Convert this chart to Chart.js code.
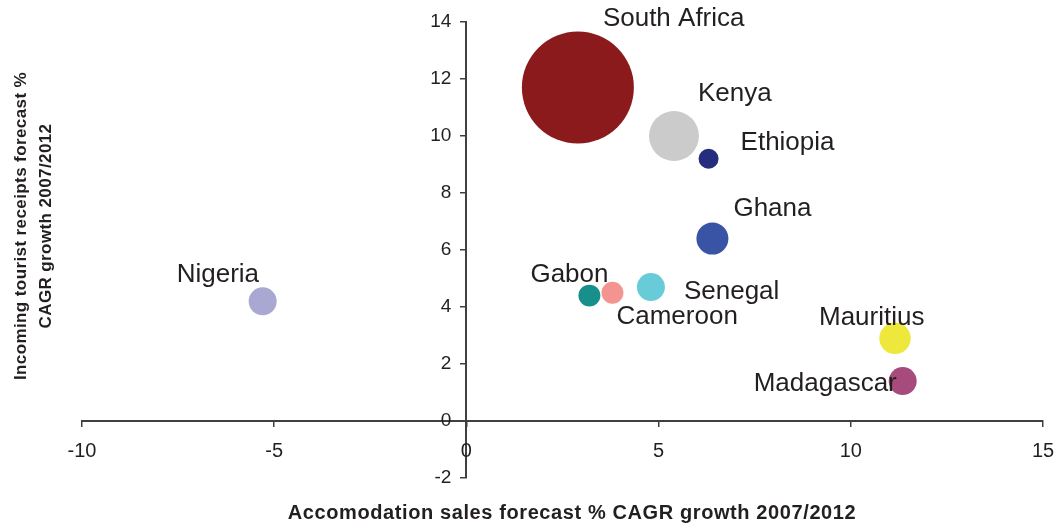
<!DOCTYPE html>
<html>
<head>
<meta charset="utf-8">
<script src="https://cdn.jsdelivr.net/npm/chart.js@4/dist/chart.umd.min.js"></script>
<style>
html, body { margin: 0; padding: 0; background: #fff; }
#wrap { width: 1057px; height: 526px; position: relative; }
</style>
</head>
<body>
<div id="wrap"><canvas id="bubbleChart"></canvas></div>
<script>
const countries = ['South Africa', 'Kenya', 'Ethiopia', 'Ghana', 'Gabon', 'Cameroon', 'Senegal', 'Nigeria', 'Mauritius', 'Madagascar'];
const accomGrowth = [2.9, 5.4, 6.3, 6.4, 3.2, 3.8, 4.8, -5.3, 11.15, 11.35];
const receiptsGrowth = [11.7, 10.0, 9.2, 6.4, 4.4, 4.5, 4.7, 4.2, 2.9, 1.4];
const marketSize = [784, 156, 25, 64, 30, 30, 49, 49, 62, 49];
const xTicks = [-10, -5, 0, 5, 10, 15];
const yTicks = [-2, 0, 2, 4, 6, 8, 10, 12, 14];

const bubbleColors = ['#8b1a1c', '#cbcbcb', '#262d7c', '#3953a5', '#178f8a', '#f39491', '#68ccd8', '#a9a8d3', '#eee83c', '#a64b7b'];
// label offset from bubble centre (px): [dx, dy], text drawn left-aligned
const labelOffset = [[25, -69], [24, -42], [32, -16], [21, -30], [-59, -21], [4, 24], [33, 5], [-86, -26], [-76, -21], [-149, 3]];

const textColor = '#231f20';
const axisColor = '#404040';
const fontFamily = '"Liberation Sans", Arial, sans-serif';

const bubbleData = countries.map((c, i) => ({
    x: accomGrowth[i],
    y: receiptsGrowth[i],
    r: Math.sqrt(marketSize[i]) * 2
}));

const labelPlugin = {
    id: 'countryLabels',
    afterDatasetsDraw(chart) {
        const ctx = chart.ctx;
        const meta = chart.getDatasetMeta(0);
        ctx.save();
        ctx.font = '26px ' + fontFamily;
        ctx.fillStyle = textColor;
        ctx.textAlign = 'left';
        ctx.textBaseline = 'middle';
        meta.data.forEach((pt, i) => {
            ctx.fillText(countries[i], pt.x + labelOffset[i][0], pt.y + labelOffset[i][1]);
        });
        ctx.restore();
    }
};

// tick labels: centred axes put them flush on the lines, so draw them with a gap
const tickLabelPlugin = {
    id: 'tickLabels',
    afterDraw(chart) {
        const ctx = chart.ctx;
        const xs = chart.scales.x;
        const ys = chart.scales.y;
        const x0 = xs.getPixelForValue(0);
        const y0 = ys.getPixelForValue(0);
        ctx.save();
        ctx.fillStyle = textColor;
        ctx.textBaseline = 'middle';

        ctx.font = '19px ' + fontFamily;
        ctx.textAlign = 'right';
        yTicks.forEach(v => {
            ctx.fillText(String(v), x0 - 15, ys.getPixelForValue(v));
        });

        ctx.font = '20px ' + fontFamily;
        ctx.textAlign = 'center';
        xTicks.forEach(v => {
            ctx.fillText(String(v), xs.getPixelForValue(v), y0 + 30);
        });
        ctx.restore();
    }
};

const titlePlugin = {
    id: 'axisTitles',
    afterDraw(chart) {
        const ctx = chart.ctx;
        ctx.save();
        ctx.fillStyle = textColor;
        ctx.textAlign = 'center';
        ctx.textBaseline = 'middle';
        ctx.letterSpacing = '0.6px';
        ctx.font = 'bold 20px ' + fontFamily;
        ctx.fillText('Accomodation sales forecast % CAGR growth 2007/2012', 572, 513);

        ctx.letterSpacing = '0.4px';
        ctx.font = 'bold 17px ' + fontFamily;
        ctx.translate(0, 226);
        ctx.rotate(-Math.PI / 2);
        ctx.fillText('Incoming tourist receipts forecast %', 0, 21);
        ctx.fillText('CAGR growth 2007/2012', 0, 46);
        ctx.restore();
    }
};

const ctx = document.getElementById('bubbleChart').getContext('2d');
const bubbleChart = new Chart(ctx, {
    type: 'bubble',
    data: {
        datasets: [{
            label: 'Countries',
            data: bubbleData,
            backgroundColor: bubbleColors,
            borderWidth: 0,
            hoverRadius: 0,
            clip: false
        }]
    },
    options: {
        responsive: true,
        maintainAspectRatio: false,
        animation: false,
        events: [],
        layout: {
            autoPadding: false,
            padding: { left: 82, right: 14, top: 22, bottom: 48 }
        },
        scales: {
            x: {
                type: 'linear',
                position: { y: 0 },
                min: -10,
                max: 15,
                afterBuildTicks: (scale) => { scale.ticks = xTicks.map(v => ({ value: v })); },
                grid: { drawOnChartArea: false, drawTicks: true, tickLength: 5, color: axisColor, lineWidth: 1.5 },
                border: { color: axisColor, width: 2 },
                ticks: { display: false }
            },
            y: {
                type: 'linear',
                position: { x: 0 },
                min: -2,
                max: 14,
                afterBuildTicks: (scale) => { scale.ticks = yTicks.map(v => ({ value: v })); },
                grid: { drawOnChartArea: false, drawTicks: true, tickLength: 5, color: axisColor, lineWidth: 1.5 },
                border: { color: axisColor, width: 2 },
                ticks: { display: false }
            }
        },
        plugins: {
            legend: { display: false },
            tooltip: { enabled: false }
        }
    },
    plugins: [labelPlugin, tickLabelPlugin, titlePlugin]
});
</script>
</body>
</html>
